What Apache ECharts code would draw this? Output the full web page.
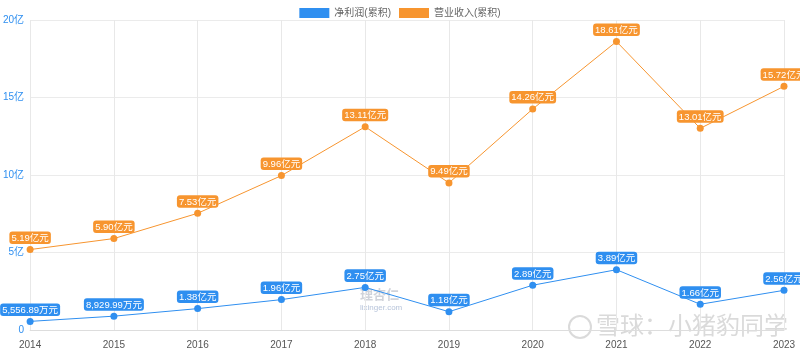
<!DOCTYPE html>
<html><head><meta charset="utf-8">
<script src="https://cdn.jsdelivr.net/npm/echarts@6/dist/echarts.min.js"></script>
<style>html,body{margin:0;padding:0;background:#fff}#c{width:800px;height:353px}</style>
</head><body><div id="c"></div>
<script>
var years = ['2014','2015','2016','2017','2018','2019','2020','2021','2022','2023'];
var netProfit = [0.555689, 0.892999, 1.38, 1.96, 2.75, 1.18, 2.89, 3.89, 1.66, 2.56];
var revenue = [5.19, 5.90, 7.53, 9.96, 13.11, 9.49, 14.26, 18.61, 13.01, 15.72];
var yTicks = [0, 5, 10, 15, 20];

var BLUE = '#2f8ff0', ORANGE = '#f7952f';
var FONT = '"Liberation Sans", "Noto Sans CJK SC", sans-serif';
function fmt(v){
  if (v < 1) {
    var w = (v*10000).toFixed(2).split('.');
    return w[0].replace(/\B(?=(\d{3})+(?!\d))/g, ',') + '.' + w[1] + '万元';
  }
  return v.toFixed(2) + '亿元';
}
function lbl(color){
  return {show:true, position:'top', distance:2, color:'#fff', fontSize:9.5,
    fontFamily:FONT, backgroundColor:color, borderRadius:3,
    padding:[2,2,1,2], formatter:function(p){return fmt(p.value);}};
}
var chart = echarts.init(document.getElementById('c'));
chart.setOption({
  animation:false,
  textStyle:{fontFamily:FONT},
  legend:{top:3, left:'center', itemWidth:30, itemHeight:10, itemGap:8, icon:'rect',
    textStyle:{color:'#666', fontSize:10}, data:['净利润(累积)','营业收入(累积)']},
  grid:{left:29, right:16, top:20, bottom:23, containLabel:false},
  xAxis:{type:'category', data:years, boundaryGap:false,
    axisLine:{lineStyle:{color:'#ddd'}}, axisTick:{show:false},
    axisLabel:{color:'#555', fontSize:10, margin:10},
    splitLine:{show:true, lineStyle:{color:'#e8e8e8'}}},
  yAxis:{type:'value', min:yTicks[0], max:yTicks[yTicks.length-1], interval:5,
    axisLine:{show:false}, axisTick:{show:false},
    axisLabel:{color:BLUE, fontSize:10, margin:6, formatter:function(v){return v===0?'0':v+'亿';}},
    splitLine:{lineStyle:{color:'#ebebeb'}}},
  graphic:[
    {type:'text', left:360, top:288, style:{text:'理杏仁', fill:'rgba(120,130,150,0.35)', font:'bold 13px "Noto Sans CJK SC"'}},
    {type:'text', left:360, top:304, style:{text:'lixinger.com', fill:'rgba(90,120,170,0.45)', font:'8px "Liberation Sans"'}},
    {type:'circle', shape:{cx:580, cy:327, r:11}, style:{fill:'none', stroke:'rgba(150,150,150,0.35)', lineWidth:2}},
    {type:'text', left:596, top:313, style:{text:'雪球：小猪豹同学', fill:'rgba(150,150,150,0.35)', font:'24px "Noto Sans CJK SC"'}}
  ],
  series:[
    {name:'净利润(累积)', type:'line', data:netProfit, color:BLUE, symbol:'circle', symbolSize:7,
      lineStyle:{width:1}, label:lbl(BLUE)},
    {name:'营业收入(累积)', type:'line', data:revenue, color:ORANGE, symbol:'circle', symbolSize:7,
      lineStyle:{width:1}, label:lbl(ORANGE)}
  ]
});
</script></body></html>
